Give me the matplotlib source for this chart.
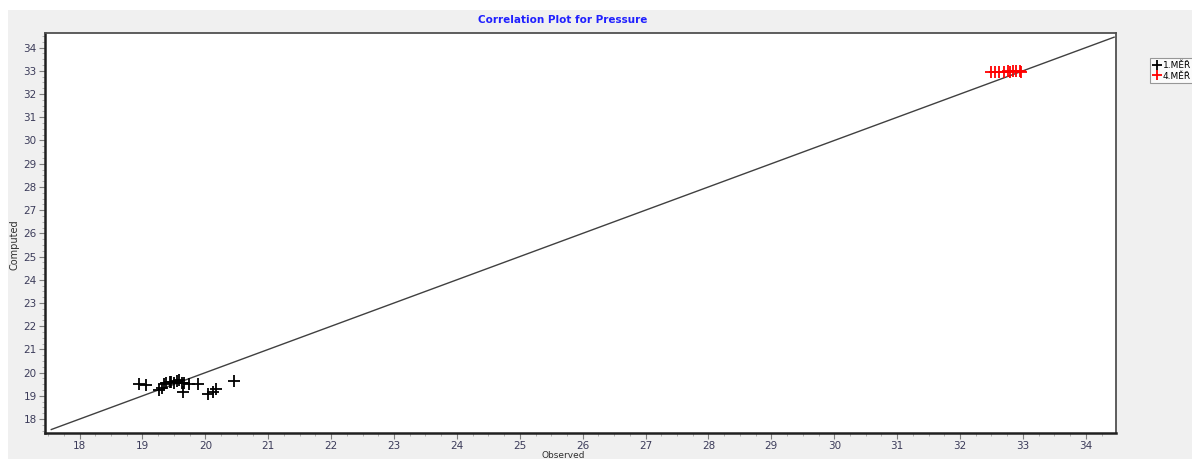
import matplotlib
matplotlib.use("Agg")
import matplotlib.pyplot as plt
from matplotlib.patches import Rectangle
from matplotlib.ticker import MultipleLocator

# ---- data ----
series1_label = "1.MĚŘ"
series1_obs = [18.94, 19.05, 19.26, 19.31, 19.34, 19.37, 19.43, 19.50, 19.58, 19.63,
               19.66, 19.64, 19.74, 19.88, 20.04, 20.12, 20.17, 20.45, 19.45, 19.55]
series1_comp = [19.51, 19.47, 19.25, 19.34, 19.51, 19.55, 19.59, 19.55, 19.68, 19.55,
                19.55, 19.16, 19.51, 19.51, 19.08, 19.16, 19.29, 19.64, 19.60, 19.62]

series2_label = "4.MĚŘ"
series2_obs = [32.49, 32.56, 32.62, 32.70, 32.76, 32.79, 32.84, 32.89, 32.95, 32.97]
series2_comp = [32.96, 32.96, 32.97, 32.96, 32.99, 32.97, 32.99, 32.99, 33.00, 32.97]

line_range = [17.55, 34.45]
ticks = list(range(18, 35))

title = "Correlation Plot for Pressure"
xlabel = "Observed"
ylabel = "Computed"

# ---- figure ----
W, H = 1192, 459
fig = plt.figure(figsize=(W / 100, H / 100), dpi=100, facecolor="white")
fig.patches.append(Rectangle((8 / W, 0), 1 - 8 / W, 1 - 10 / H, transform=fig.transFigure,
                             facecolor="#f0f0f0", edgecolor="none", zorder=-10))

ax = fig.add_axes([45 / W, 1 - 433 / H, (1116 - 45) / W, (433 - 33) / H])
ax.set_facecolor("white")

ax.plot(line_range, line_range, color="#404040", lw=1.0, zorder=1)
ax.plot(series1_obs, series1_comp, linestyle="none", marker="+", markersize=8,
        markeredgewidth=1.3, color="black", label=series1_label, zorder=3)
ax.plot(series2_obs, series2_comp, linestyle="none", marker="+", markersize=8,
        markeredgewidth=1.3, color="red", label=series2_label, zorder=3)

ax.set_xlim(17.45, 34.48)
ax.set_ylim(17.40, 34.63)
ax.set_xticks(ticks)
ax.set_yticks(ticks)
ax.xaxis.set_minor_locator(MultipleLocator(0.25))
ax.yaxis.set_minor_locator(MultipleLocator(0.25))
tick_color = "#3c3c5a"
ax.tick_params(axis="both", which="major", length=4, width=0.8, color="#808080",
               labelsize=7.5, labelcolor=tick_color, pad=2, direction="out")
ax.tick_params(axis="both", which="minor", length=2, width=0.6, color="#a8a8a8",
               direction="out")
for s in ["left", "bottom"]:
    ax.spines[s].set_linewidth(1.8)
    ax.spines[s].set_color("#202020")
for s in ["top", "right"]:
    ax.spines[s].set_linewidth(1.3)
    ax.spines[s].set_color("#505050")

fig.text(563 / W, 1 - 20 / H, title, ha="center", va="center", color="#2020ff",
         fontsize=7.5, fontweight="bold")
fig.text(15 / W, 1 - 245 / H, ylabel, ha="center", va="center", rotation=90,
         color="#303030", fontsize=7)
fig.text(563 / W, 1 - 450.5 / H, xlabel, ha="center", va="top",
         color="#303030", fontsize=6.5)

leg = fig.legend(loc="upper left", bbox_to_anchor=(1150 / W, 1 - 58 / H),
                 frameon=True, fontsize=6.5, handlelength=0.9, handletextpad=0.2,
                 borderpad=0.3, labelspacing=0.2, borderaxespad=0, fancybox=False,
                 shadow=False)
leg.get_frame().set_edgecolor("#808080")
leg.get_frame().set_linewidth(0.8)
for h in leg.legend_handles:
    h.set_markersize(7)

fig.savefig("out.png", dpi=100, facecolor=fig.get_facecolor())
